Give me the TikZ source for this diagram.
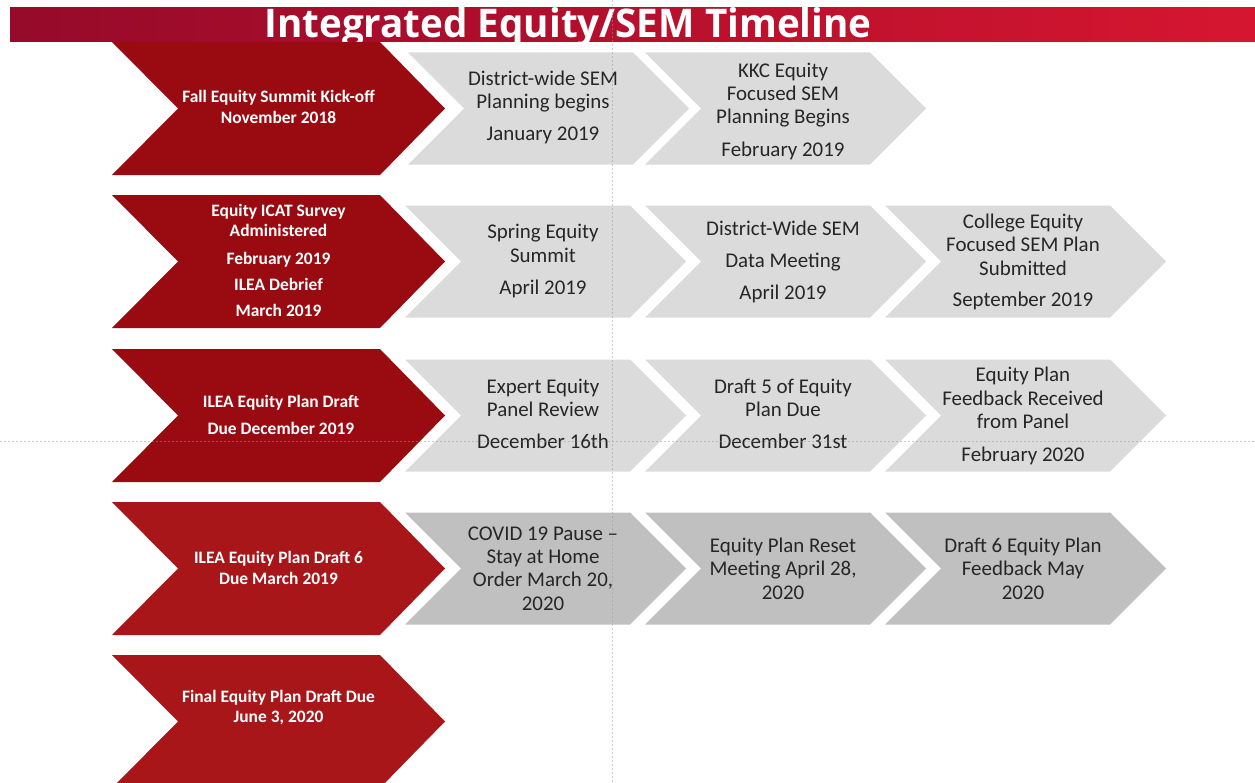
\documentclass[tikz,border=0pt]{standalone}
\usepackage{fontspec}
\setmainfont{Carlito}
\newfontfamily\titlefont{Open Sans}
\usepackage{xcolor}
\usepackage{graphicx}
\usetikzlibrary{positioning}
\definecolor{eqred}{RGB}{154,11,17}
\definecolor{eqredlight}{RGB}{168,22,26}
\definecolor{eqgrey}{RGB}{219,219,219}
\definecolor{eqgreydark}{RGB}{192,192,192}
\definecolor{barleft}{RGB}{150,10,42}
\definecolor{barright}{RGB}{214,22,48}
\tikzstyle{redchev} = [fill=eqred]
\tikzstyle{redchevlight} = [fill=eqredlight]
\tikzstyle{greychev} = [fill=eqgrey]
\tikzstyle{greychevdark} = [fill=eqgreydark]
\tikzstyle{redtext} = [text=white, align=center, inner sep=0pt,
    font=\fontsize{17.5}{20.5}\selectfont\bfseries]
\tikzstyle{greytext} = [text=black!85, align=center, inner sep=0pt,
    font=\fontsize{21}{23.5}\selectfont]
\tikzstyle{guide} = [draw=gray!80, dash pattern=on 2bp off 2bp,
    line width=0.6bp, opacity=0.5]
% chevron outlines: style, left x, top y
\newcommand{\redshape}[2]{%
  \path[#1] (112,#2) -- ++(268,0) -- ++(65,66.5) -- ++(-65,66.5)
    -- ++(-268,0) -- ++(66,-66.5) -- cycle;}
\newcommand{\greyshape}[3]{%
  \path[#1] (#2,#3) -- ++(225,0) -- ++(56,56) -- ++(-56,56)
    -- ++(-225,0) -- ++(56,-56) -- cycle;}

\begin{document}
\begin{tikzpicture}[x=1bp, y=-1bp]
    \useasboundingbox (0,0) rectangle (1255,783);
    % Title bar
    \shade[left color=barleft, right color=barright] (10,8) rectangle (1255,42);
    \node [text=white, anchor=base, inner sep=0pt] (title) at (568,37.5)
        {\resizebox{607bp}{30bp}{\titlefont\bfseries Integrated Equity/SEM Timeline}};
    % Place shapes
    \foreach \t in {42,195,349} {\redshape{redchev}{\t}}
    \foreach \t in {502,655} {\redshape{redchevlight}{\t}}
    \foreach \l in {408,645} {\greyshape{greychev}{\l}{52.5}}
    \foreach \t in {205.5,359.5} {
        \foreach \l in {405,645,885} {\greyshape{greychev}{\l}{\t}}
    }
    \foreach \l in {405,645,885} {\greyshape{greychevdark}{\l}{512.5}}
    % Place nodes
    \node [redtext] (kickoff) at (278.5,107) {Fall Equity Summit Kick-off\\November 2018};
    \node [redtext] (survey) at (278.5,260.5) {Equity ICAT Survey\\Administered\\[7bp]
        February 2019\\[6bp] ILEA Debrief\\[6bp] March 2019};
    \node [redtext] (draft) at (281,414.5) {ILEA Equity Plan Draft\\[6.5bp]Due December 2019};
    \node [redtext] (draftsix) at (278.5,568) {ILEA Equity Plan Draft 6\\Due March 2019};
    \node [redtext] (final) at (278.5,707.5) {Final Equity Plan Draft Due\\June 3, 2020};

    \node [greytext] (district) at (543,107.5) {District-wide SEM\\Planning begins\\[8.5bp]January 2019};
    \node [greytext] (kkc) at (783,111.5) {KKC Equity\\Focused SEM\\Planning Begins\\[9.5bp]February 2019};
    \node [greytext] (spring) at (543,261) {Spring Equity\\Summit\\[9bp]April 2019};
    \node [greytext] (datameet) at (783,262) {District-Wide SEM\\[9bp]Data Meeting\\[8.5bp]April 2019};
    \node [greytext] (college) at (1023,262) {College Equity\\Focused SEM Plan\\Submitted\\[8.5bp]September 2019};
    \node [greytext] (expert) at (543,414) {Expert Equity\\Panel Review\\[8.5bp]December 16th};
    \node [greytext] (draftfive) at (783,414) {Draft 5 of Equity\\Plan Due\\[8.5bp]December 31st};
    \node [greytext] (feedback) at (1023,416) {Equity Plan\\Feedback Received\\from Panel\\[9bp]February 2020};
    \node [greytext] (covid) at (543,568.5) {COVID 19 Pause --\\Stay at Home\\Order March 20,\\2020};
    \node [greytext] (reset) at (783,568.5) {Equity Plan Reset\\Meeting April 28,\\2020};
    \node [greytext] (draftsixfb) at (1023,568.5) {Draft 6 Equity Plan\\Feedback May\\2020};
    % Guides
    \coordinate (vtop) at (612,0);
    \coordinate (vbot) at (612,783);
    \coordinate (hleft) at (0,441);
    \coordinate (hright) at (1255,441);
    \path [guide] (vtop) -- (vbot);
    \path [guide] (hleft) -- (hright);
\end{tikzpicture}
\end{document}
